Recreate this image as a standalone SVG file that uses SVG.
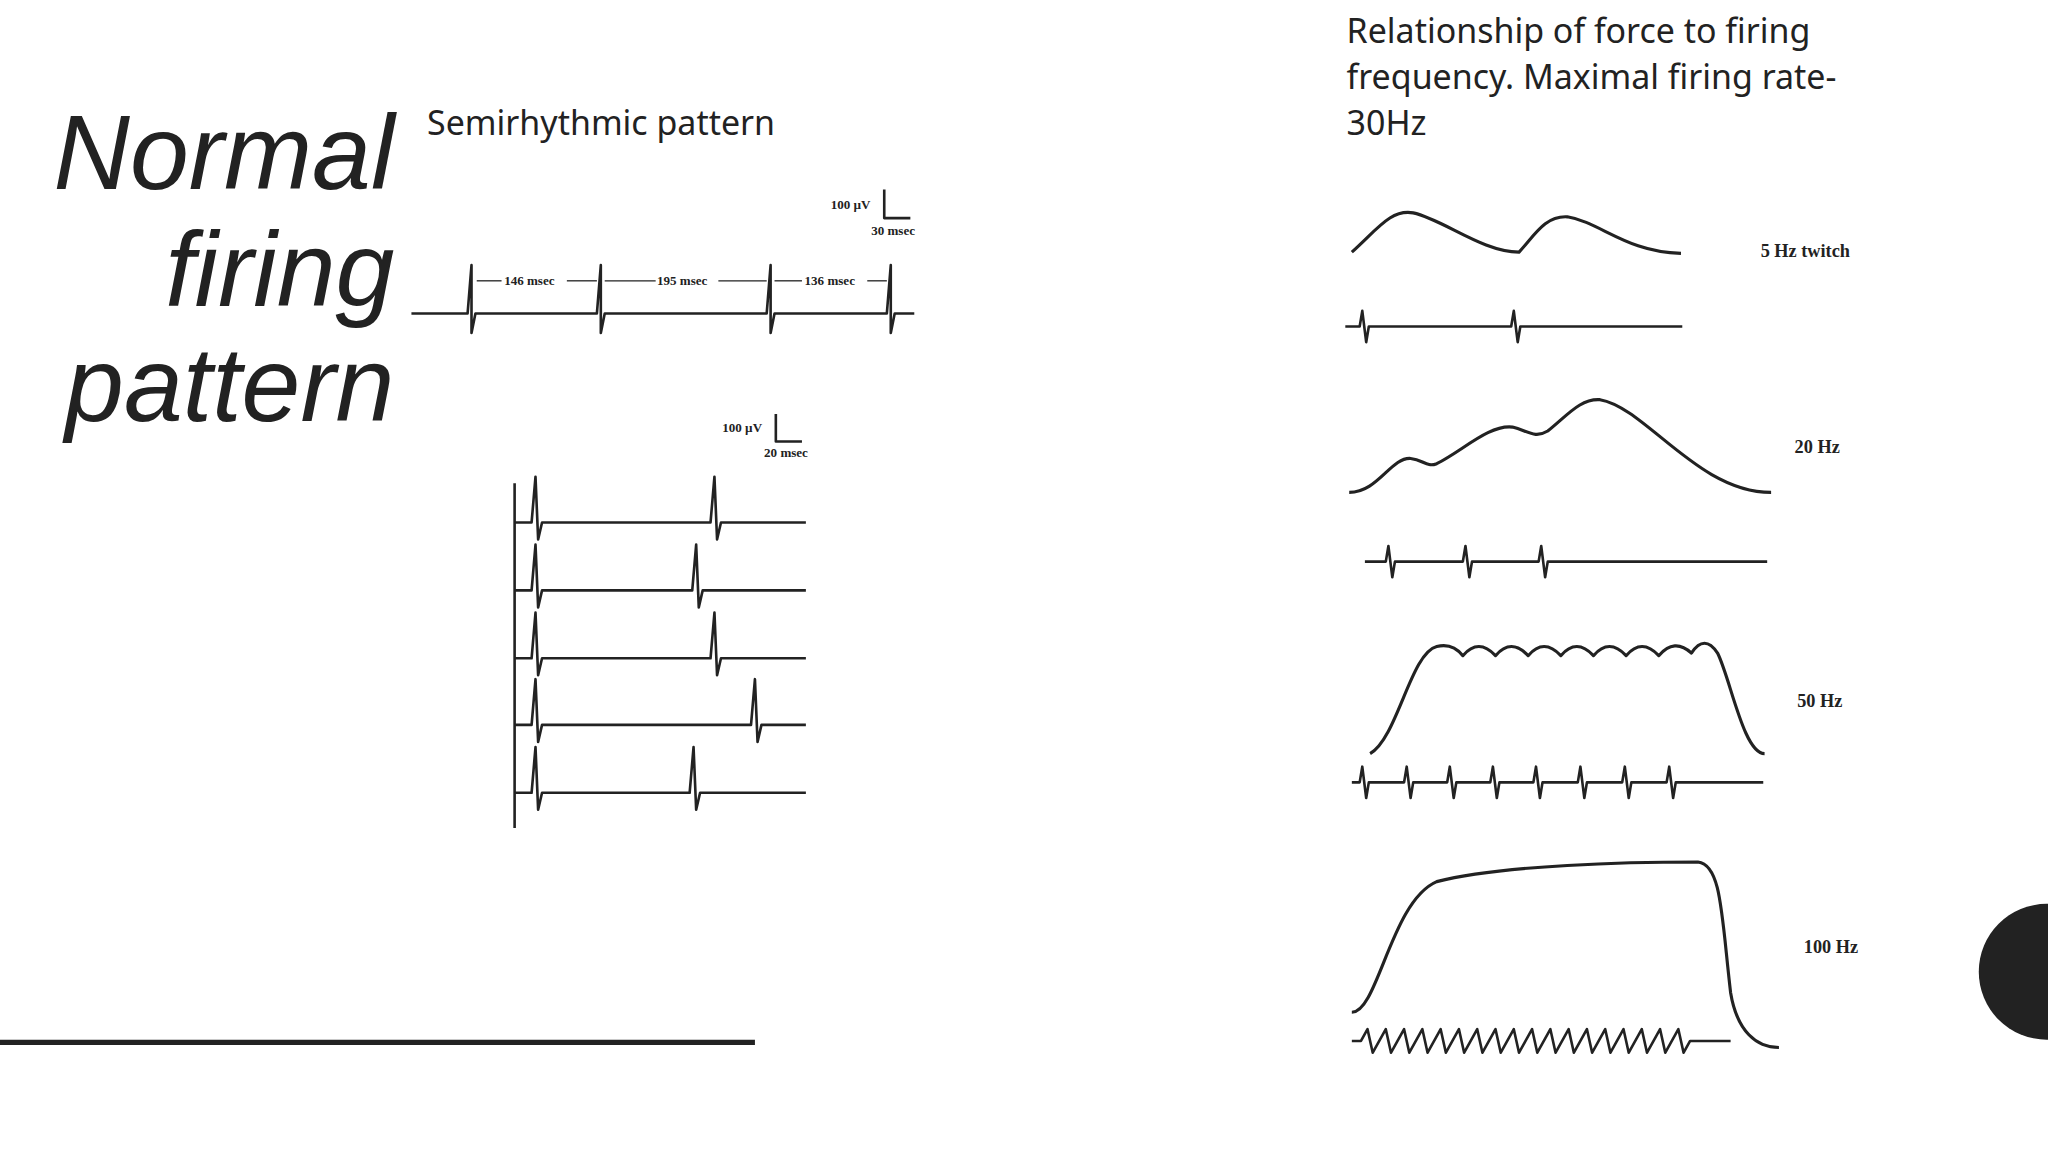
<svg xmlns="http://www.w3.org/2000/svg" width="2048" height="1152" viewBox="0 0 2048 1152">
<style>
.t{fill:none;stroke:#222;stroke-width:2;stroke-linejoin:round}
.f{fill:none;stroke:#222;stroke-width:2.4;stroke-linejoin:round}
.lb{font-family:"Liberation Serif",serif;font-weight:bold;font-size:14px;fill:#222}
.tx{font-family:"Noto Sans","Open Sans",sans-serif;font-size:26px;fill:#222}
.sb{font-family:"Liberation Serif",serif;font-weight:bold;font-size:10px;fill:#222}
</style>
<rect width="2048" height="1152" fill="#fff"/>
<g transform="scale(1.30612)">
<g id="title" font-family="Liberation Sans,Arial,sans-serif" font-style="italic" font-size="81" fill="#222" text-anchor="end">
<text x="302" y="145">Normal</text><text x="302" y="234">firing</text><text x="302" y="322">pattern</text>
</g>
<g id="captions">
<text class="tx" x="1031" y="33">Relationship of force to firing</text>
<text class="tx" x="1031" y="68">frequency. Maximal firing rate-</text>
<text class="tx" x="1031" y="103">30Hz</text>
<text class="tx" x="327" y="103">Semirhythmic pattern</text>
</g>
<line x1="0" y1="798" x2="578" y2="798" stroke="#222" stroke-width="4"/>
<circle id="dot" cx="1567" cy="744" r="52" fill="#222"/>
<g id="semirhythmic">
<text class="sb" x="636" y="160">100 µV</text>
<path class="t" d="M677,145 V167 H697" stroke-width="1.5"/>
<text class="sb" x="667" y="180">30 msec</text>
<path class="t" d="M315,240 H358 l3,-37 l0,52 l3,-15 H457 l3,-37 l0,52 l3,-15 H587 l3,-37 l0,52 l3,-15 H679 l3,-37 l0,52 l3,-15 H700"/>
<g stroke="#222" stroke-width="1" fill="none"><line x1="365" y1="215" x2="384" y2="215"/><line x1="434" y1="215" x2="457" y2="215"/><line x1="463" y1="215" x2="502" y2="215"/><line x1="550" y1="215" x2="587" y2="215"/><line x1="593" y1="215" x2="614" y2="215"/><line x1="664" y1="215" x2="679" y2="215"/></g>
<text class="sb" x="386" y="218">146 msec</text><text class="sb" x="503" y="218">195 msec</text><text class="sb" x="616" y="218">136 msec</text>
</g>
<g id="rasters">
<text class="sb" x="553" y="331">100 µV</text>
<path class="t" d="M594,317 V338 H614" stroke-width="1.5"/>
<text class="sb" x="585" y="350">20 msec</text>
<line x1="394" y1="370" x2="394" y2="634" stroke="#222" stroke-width="2"/>
<path class="t" d="M394,400 H407 l3,-35 l2,48 l3,-13 H544 l3,-35 l2,48 l3,-13 H617"/>
<path class="t" d="M394,452 H407 l3,-35 l2,48 l3,-13 H530 l3,-35 l2,48 l3,-13 H617"/>
<path class="t" d="M394,504 H407 l3,-35 l2,48 l3,-13 H544 l3,-35 l2,48 l3,-13 H617"/>
<path class="t" d="M394,555 H407 l3,-35 l2,48 l3,-13 H575 l3,-35 l2,48 l3,-13 H617"/>
<path class="t" d="M394,607 H407 l3,-35 l2,48 l3,-13 H528 l3,-35 l2,48 l3,-13 H617"/>
</g>
<g id="hz5">
<path class="f" d="M1035,193 C1055,175 1065,160 1082,163 C1105,168 1135,193 1163,193 C1175,180 1183,165 1200,166 C1225,170 1245,193 1287,194"/>
<path class="t" d="M1030,250 H1041 l2,-12 l3,24 l2,-12 H1157 l2,-12 l3,24 l2,-12 H1288"/>
<text class="lb" x="1348" y="197">5 Hz twitch</text>
</g>
<g id="hz20">
<path class="f" d="M1033,377 C1055,377 1065,350 1080,351 C1090,352 1092,358 1100,355 C1120,345 1140,325 1158,327 C1170,330 1175,336 1185,330 C1200,318 1210,305 1225,306 C1260,312 1300,377 1356,377"/>
<path class="t" d="M1045,430 H1061 l2,-12 l3,24 l2,-12 H1120 l2,-12 l3,24 l2,-12 H1178 l2,-12 l3,24 l2,-12 H1353"/>
<text class="lb" x="1374" y="347">20 Hz</text>
</g>
<g id="hz50">
<path class="f" d="M1049,577 C1070,565 1080,500 1100,495 Q1112,492 1120,502 Q1132,488 1145,502 Q1157,488 1170,502 Q1182,488 1195,502 Q1207,488 1220,502 Q1232,488 1245,502 Q1257,488 1270,502 Q1282,488 1295,500 Q1305,485 1315,500 C1325,520 1335,577 1351,577"/>
<path class="t" d="M1035,599 H1041 l2,-12 l3,24 l2,-12 H1075 l2,-12 l3,24 l2,-12 H1108 l2,-12 l3,24 l2,-12 H1141 l2,-12 l3,24 l2,-12 H1174 l2,-12 l3,24 l2,-12 H1208 l2,-12 l3,24 l2,-12 H1242 l2,-12 l3,24 l2,-12 H1276 l2,-12 l3,24 l2,-12 H1350"/>
<text class="lb" x="1376" y="541">50 Hz</text>
</g>
<g id="hz100">
<path class="f" d="M1035,775 C1055,775 1065,690 1100,675 C1150,662 1250,660 1300,660 C1318,662 1318,700 1325,760 C1330,790 1345,802 1362,802"/>
<path class="t" d="M1035,797 H1042 l5,-9 l4,18 l5,-9 l5,-9 l4,18 l5,-9 l5,-9 l4,18 l5,-9 l5,-9 l4,18 l5,-9 l5,-9 l4,18 l5,-9 l5,-9 l4,18 l5,-9 l5,-9 l4,18 l5,-9 l5,-9 l4,18 l5,-9 l5,-9 l4,18 l5,-9 l5,-9 l4,18 l5,-9 l5,-9 l4,18 l5,-9 l5,-9 l4,18 l5,-9 l5,-9 l4,18 l5,-9 l5,-9 l4,18 l5,-9 l5,-9 l4,18 l5,-9 l5,-9 l4,18 l5,-9 l5,-9 l4,18 l5,-9 l5,-9 l4,18 l5,-9 H1325"/>
<text class="lb" x="1381" y="730">100 Hz</text>
</g>
</g>
</svg>
